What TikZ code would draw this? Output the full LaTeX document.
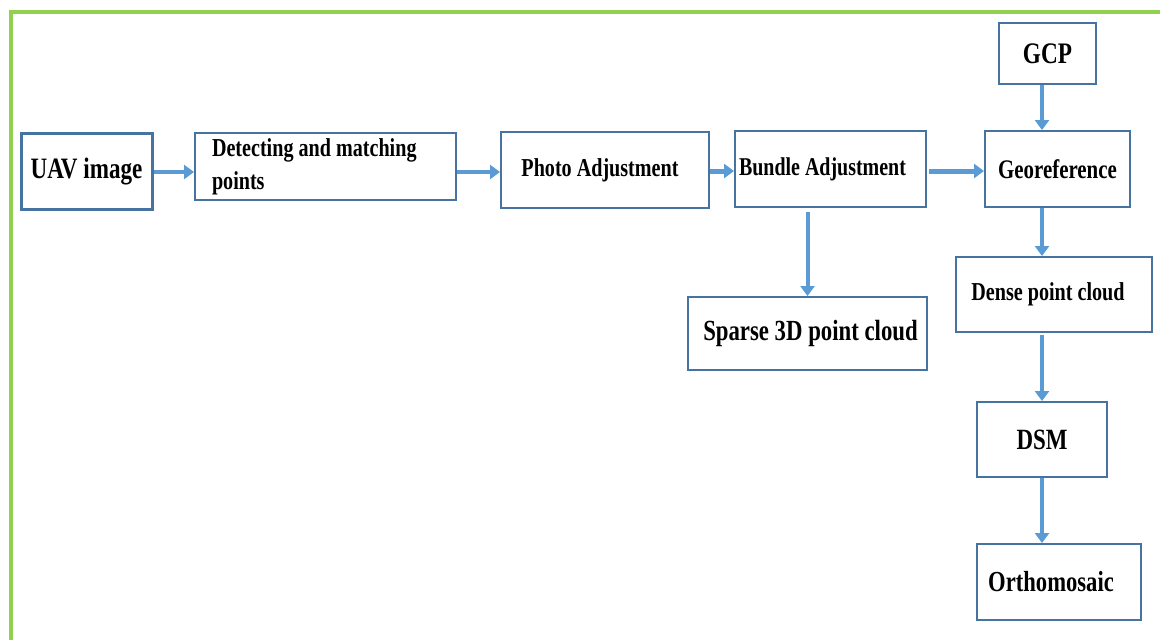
\documentclass[tikz,border=0pt]{standalone}
\usepackage{fontspec}
\setmainfont{Liberation Serif}[FakeStretch=0.78]
\usetikzlibrary{arrows.meta}

\definecolor{boxblue}{RGB}{70,115,160}
\definecolor{arrowblue}{RGB}{91,155,213}
\definecolor{framegreen}{RGB}{146,208,80}

\tikzstyle{boxstyle} = [draw=boxblue, line width=1pt, text centered, inner sep=0, font=\bfseries]
\tikzstyle{flowarrow} = [draw=arrowblue, line width=2pt, -{Triangle[length=5pt,width=7pt]}]

\begin{document}
\begin{tikzpicture}[x=0.5pt, y=-0.5pt]
  \useasboundingbox (0,0) rectangle (1160,639);
  \fill[white] (0,0) rectangle (1160,639);
  \draw[framegreen, line width=2pt] (10.5,700) -- (10.5,12) -- (1200,12);

  \node at (86.5, 171) [boxstyle, line width=1.5pt, minimum width=65.5pt, minimum height=38pt,
    font=\bfseries\fontsize{14.8}{17}\selectfont] (UAV) {UAV image};

  \node at (325.5, 166.5) [boxstyle, minimum width=130.5pt, minimum height=33.5pt, text width=122pt,
    inner xsep=4.25pt, align=flush left, font=\bfseries\fontsize{12.9}{16.5}\selectfont] (Detect) {\hspace*{4.25pt}Detecting and matching\\\hspace*{4.25pt}points};

  \node at (605, 170) [boxstyle, minimum width=104pt, minimum height=38pt,
    font=\bfseries\fontsize{12.9}{15}\selectfont] (Photo) {\hspace*{-5pt}Photo Adjustment};

  \node at (830.5, 169) [boxstyle, minimum width=95.5pt, minimum height=38pt,
    font=\bfseries\fontsize{12.8}{15}\selectfont] (Bundle) {Bundle Adjustment\hspace*{8pt}};

  \node at (1057.5, 169) [boxstyle, minimum width=72.5pt, minimum height=38pt,
    font=\bfseries\fontsize{13.4}{15}\selectfont] (Georef) {Georeference};

  \node at (1047.5, 53.5) [boxstyle, minimum width=48.5pt, minimum height=30.5pt,
    font=\bfseries\fontsize{14.9}{17}\selectfont] (GCP) {GCP};

  \node at (807.5, 333.5) [boxstyle, minimum width=119.5pt, minimum height=36.5pt,
    font=\bfseries\fontsize{14.6}{17}\selectfont] (Sparse) {\hspace*{3pt}Sparse 3D point cloud};

  \node at (1054, 294.5) [boxstyle, minimum width=98pt, minimum height=37.5pt,
    font=\bfseries\fontsize{12.9}{15}\selectfont] (Dense) {Dense point cloud\hspace*{6pt}};

  \node at (1042, 439.5) [boxstyle, minimum width=65pt, minimum height=37.5pt,
    font=\bfseries\fontsize{14.7}{17}\selectfont] (DSM) {DSM};

  \node at (1059, 582) [boxstyle, minimum width=82pt, minimum height=38pt,
    font=\bfseries\fontsize{14.5}{17}\selectfont] (Ortho) {Orthomosaic\hspace*{8pt}};

  % horizontal flow
  \draw[flowarrow] (UAV.east |- 0,172) -- (Detect.west |- 0,172);
  \draw[flowarrow] (Detect.east |- 0,172) -- (Photo.west |- 0,172);
  \draw[flowarrow, line width=2.5pt] (Photo.east |- 0,171) -- (Bundle.west |- 0,171);
  \draw[flowarrow, line width=2.5pt] ([xshift=1pt]Bundle.east |- 0,171) -- (Georef.west |- 0,171);

  % vertical flow
  \draw[flowarrow] (GCP.south -| DSM.north) -- (Georef.north -| DSM.north);
  \draw[flowarrow] ([yshift=-2pt]Bundle.south -| Sparse.north) -- (Sparse.north);
  \draw[flowarrow] (Georef.south -| DSM.north) -- (Dense.north -| DSM.north);
  \draw[flowarrow] ([yshift=-1pt]Dense.south -| DSM.north) -- (DSM.north);
  \draw[flowarrow] (DSM.south) -- (Ortho.north -| DSM.south);
\end{tikzpicture}
\end{document}
